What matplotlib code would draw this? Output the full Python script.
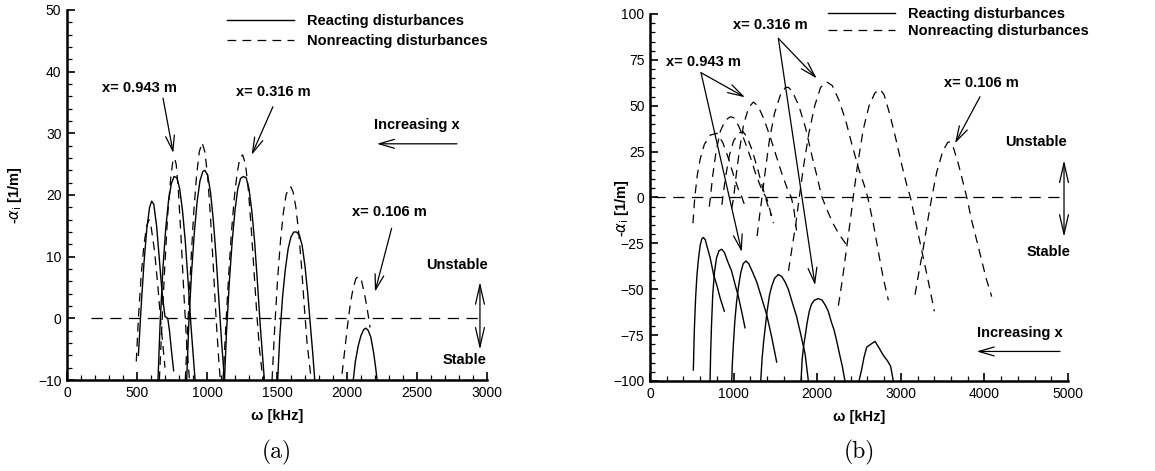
import numpy as np
import matplotlib.pyplot as plt
from matplotlib.ticker import MultipleLocator
from matplotlib.lines import Line2D

plt.rcParams['font.family'] = ['Liberation Sans', 'DejaVu Sans']

# ---- panel (a): omega [kHz] vs -alpha_i [1/m] ----
a_reacting = [
    [(510, -6), (530, 2), (550, 9), (570, 14.5), (590, 18), (605, 19), (620, 18.5), (640, 15),
     (660, 9.5), (680, 4), (700, 0.3), (720, 0), (732, -2), (745, -5), (762, -8.5)],
    [(650, -10), (665, -1), (685, 8), (705, 14.5), (725, 19), (745, 21.8), (765, 23), (785, 22.8),
     (805, 21), (825, 17.5), (845, 12.5), (865, 6), (885, -1), (905, -7), (915, -10)],
    [(855, -10), (870, -1), (890, 7.5), (910, 14), (930, 19), (950, 22.3), (970, 23.8), (985, 24),
     (1005, 23.2), (1025, 20.5), (1045, 16), (1065, 10), (1085, 3), (1105, -4), (1125, -10)],
    [(1125, -10), (1140, -2), (1160, 6), (1180, 12.5), (1200, 17.5), (1220, 21), (1240, 22.7),
     (1260, 23), (1280, 22.8), (1300, 21), (1320, 17.5), (1340, 12.5), (1360, 6), (1380, -1),
     (1400, -7), (1410, -10)],
    [(1505, -10), (1520, -3), (1540, 3.5), (1560, 8), (1580, 11.3), (1600, 13.2), (1620, 14),
     (1640, 14), (1660, 13.5), (1680, 11.8), (1700, 8.5), (1720, 4), (1740, -1.5), (1755, -5.5),
     (1770, -10)],
    [(2045, -10), (2060, -7), (2080, -4.5), (2100, -2.8), (2120, -1.8), (2135, -1.6), (2150, -1.9),
     (2170, -3), (2190, -5.5), (2205, -8), (2215, -10)],
]
a_nonreacting = [
    [(495, -7), (510, 0), (530, 7), (550, 12), (570, 15), (585, 16), (600, 15), (625, 11),
     (650, 5), (675, -2), (700, -8)],
    [(660, -10), (680, 0), (700, 9), (720, 17), (740, 22.5), (755, 25.3), (768, 26), (780, 25),
     (795, 21), (815, 13), (835, 4), (855, -4), (875, -10)],
    [(845, -10), (865, 0), (885, 9), (905, 17), (925, 23), (945, 27), (965, 28.5), (985, 27),
     (1005, 23), (1025, 16.5), (1045, 8.5), (1065, 0), (1085, -7), (1095, -10)],
    [(1115, -10), (1135, -1), (1155, 7), (1175, 14), (1195, 19.5), (1215, 23.5), (1235, 26),
     (1255, 26.5), (1275, 25), (1295, 21), (1315, 15), (1335, 8), (1355, 1), (1375, -5), (1400, -10)],
    [(1465, -10), (1485, -1), (1505, 6.5), (1525, 12.5), (1545, 17), (1565, 20), (1585, 21.2),
     (1600, 21.3), (1615, 20.5), (1635, 18), (1655, 14), (1675, 8.5), (1695, 2), (1715, -4),
     (1745, -10)],
    [(1965, -9), (1985, -5), (2005, -1), (2025, 2.5), (2045, 5), (2065, 6.5), (2085, 6.8),
     (2105, 6), (2125, 4), (2145, 1.5), (2165, -1.5)],
]
a_zero_line = [(170, 0), (2950, 0)]

# ---- panel (b) ----
b_reacting = [
    [(518, -94), (530, -72), (545, -55), (560, -43), (578, -34), (600, -26), (620, -22.5),
     (638, -21.8), (660, -23), (690, -28), (720, -33), (760, -42), (800, -48), (840, -55), (889, -62)],
    [(718, -100), (725, -85), (735, -70), (750, -53), (770, -41), (795, -33), (825, -29),
     (857, -28.2), (890, -30), (930, -35), (975, -40), (1015, -47), (1057, -54), (1100, -63),
     (1136, -71)],
    [(977, -100), (985, -90), (997, -80), (1015, -67), (1035, -57), (1057, -49), (1085, -41),
     (1115, -36), (1148, -34.6), (1180, -36), (1220, -40), (1276, -46), (1330, -54), (1396, -64),
     (1455, -76), (1515, -89.7)],
    [(1324, -100), (1340, -88), (1360, -78), (1375, -72), (1400, -62), (1430, -53), (1455, -48.5),
     (1490, -44), (1535, -42), (1575, -43), (1615, -46), (1654, -50), (1700, -57), (1754, -65),
     (1800, -74), (1854, -85), (1894, -100)],
    [(1806, -100), (1820, -88), (1840, -80), (1854, -76), (1880, -68), (1905, -62), (1933, -58),
     (1965, -56), (2013, -55.1), (2060, -56), (2100, -59), (2132, -62), (2170, -68), (2200, -72),
     (2232, -78), (2270, -86), (2300, -92), (2332, -100)],
    [(2500, -100), (2530, -94), (2560, -87), (2592, -81.5), (2640, -80), (2691, -78.4),
     (2740, -82), (2790, -86), (2840, -89), (2878, -92), (2910, -100)],
]
b_nonreacting = [
    [(513, -14), (535, 0), (565, 12), (600, 21), (650, 29), (720, 34), (800, 35), (870, 30),
     (940, 21), (1000, 12), (1060, 4), (1100, 0), (1138, -5)],
    [(709, -5), (722, 0), (750, 12), (790, 25), (840, 36), (900, 42), (960, 44), (1000, 43.5),
     (1060, 39), (1130, 31), (1200, 22), (1270, 12), (1340, 4), (1400, -1), (1477, -14)],
    [(860, -4), (875, 2), (910, 13), (950, 23), (1000, 31), (1060, 35), (1110, 36), (1160, 33),
     (1220, 26), (1290, 15), (1350, 5), (1400, -3), (1450, -10)],
    [(977, -6), (1000, 0), (1030, 12), (1070, 26), (1120, 40), (1180, 49), (1236, 52), (1290, 50),
     (1360, 43), (1430, 34), (1500, 24), (1570, 14), (1640, 5), (1690, 0), (1720, -6), (1752, -18)],
    [(1281, -21), (1310, -10), (1339, 0), (1380, 15), (1430, 32), (1490, 46), (1560, 56),
     (1620, 60), (1655, 60), (1700, 58), (1780, 50), (1860, 38), (1940, 22), (2000, 11),
     (2050, 1), (2110, -6), (2187, -14), (2260, -20), (2370, -27)],
    [(1656, -40), (1700, -27), (1745, -14), (1785, 0), (1840, 18), (1900, 35), (1970, 50),
     (2040, 60), (2113, 63), (2180, 61), (2260, 53), (2340, 42), (2420, 28), (2500, 15),
     (2560, 7), (2605, 0), (2670, -14), (2733, -30), (2790, -44), (2851, -56)],
    [(2253, -59), (2300, -45), (2350, -28), (2400, -11), (2430, 0), (2480, 17), (2550, 37),
     (2620, 50), (2690, 57), (2751, 59), (2800, 56), (2870, 45), (2940, 32), (3010, 18),
     (3070, 7), (3115, 0), (3190, -16), (3260, -31), (3330, -46), (3401, -62)],
    [(3170, -53), (3215, -41), (3260, -30), (3320, -13), (3370, 0), (3430, 14), (3500, 25),
     (3560, 30), (3589, 30.3), (3630, 27), (3690, 18), (3740, 9), (3789, 0), (3850, -13),
     (3900, -22), (3960, -33), (4020, -44), (4087, -54)],
]
b_zero_line = [(50, 0), (4950, 0)]

solid_kw = dict(color='black', lw=1.0)
dash_kw = dict(color='black', lw=0.9, dashes=(7, 5))
bold = dict(fontsize=10.5, fontweight='bold')
arrow = dict(arrowstyle='->,head_length=0.55,head_width=0.16', lw=0.9, color='black',
             shrinkA=0, shrinkB=0, mutation_scale=20)
dbl_arrow = dict(arrowstyle='<->,head_length=0.7,head_width=0.16', lw=0.9, color='black',
                 shrinkA=0, shrinkB=0, mutation_scale=20)


def draw(ax, reacting, nonreacting, zero_line):
    for c in nonreacting:
        w, v = np.array(c).T
        ax.plot(w, v, **dash_kw)
    w, v = np.array(zero_line).T
    ax.plot(w, v, color='black', lw=0.9, dashes=(9, 6))
    for c in reacting:
        w, v = np.array(c).T
        ax.plot(w, v, **solid_kw)


def style(ax, xmax, xmaj, xmin, ylim, ymaj, ymin):
    ax.set_xlim(0, xmax)
    ax.set_ylim(*ylim)
    ax.xaxis.set_major_locator(MultipleLocator(xmaj))
    ax.xaxis.set_minor_locator(MultipleLocator(xmin))
    ax.yaxis.set_major_locator(MultipleLocator(ymaj))
    ax.yaxis.set_minor_locator(MultipleLocator(ymin))
    for s in ['top', 'right']:
        ax.spines[s].set_visible(False)
    for s in ['left', 'bottom']:
        ax.spines[s].set_linewidth(1.8)
    ax.tick_params(which='major', direction='in', length=6, width=1.2, labelsize=10, pad=4)
    ax.tick_params(which='minor', direction='in', length=3.5, width=0.9)
    ax.set_xlabel('ω [kHz]', fontsize=10.5, fontweight='bold', labelpad=7)


def legend(ax, anchor, spacing):
    handles = [Line2D([], [], **solid_kw), Line2D([], [], **dash_kw)]
    ax.legend(handles, ['Reacting disturbances', 'Nonreacting disturbances'],
              loc='upper left', bbox_to_anchor=anchor, frameon=False, borderpad=0,
              borderaxespad=0, handlelength=4.6, handletextpad=0.9, labelspacing=spacing,
              prop=dict(size=10.5, weight='bold'))


fig = plt.figure(figsize=(11.55, 4.71), dpi=100)
ax1 = fig.add_axes([0.058, 0.1932, 0.3636, 0.7856])
ax2 = fig.add_axes([0.5628, 0.1911, 0.3619, 0.7792])

# (a)
draw(ax1, a_reacting, a_nonreacting, a_zero_line)
style(ax1, 3000, 500, 100, (-10, 50), 10, 2)
legend(ax1, (0.381, 0.99), 0.42)
ax1.text(-0.124, 0.5, r'-$\alpha_{\rm i}$ [1/m]', transform=ax1.transAxes, rotation=90,
         ha='center', va='center', **bold)
ax1.text(521, 37.3, 'x= 0.943 m', ha='center', va='center', **bold)
ax1.annotate('', xy=(759, 26.8), xytext=(686, 35.7), arrowprops=arrow)
ax1.text(1471, 36.7, 'x= 0.316 m', ha='center', va='center', **bold)
ax1.annotate('', xy=(1319, 26.5), xytext=(1471, 34.3), arrowprops=arrow)
ax1.text(2500, 31.3, 'Increasing x', ha='center', va='center', **bold)
ax1.annotate('', xy=(2214, 28.3), xytext=(2786, 28.3), arrowprops=arrow)
ax1.text(2300, 17.3, 'x= 0.106 m', ha='center', va='center', **bold)
ax1.annotate('', xy=(2200, 4.3), xytext=(2319, 14.6), arrowprops=arrow)
ax1.text(2786, 8.6, 'Unstable', ha='center', va='center', **bold)
ax1.text(2843, -6.8, 'Stable', ha='center', va='center', **bold)
ax1.annotate('', xy=(2950, 5.9), xytext=(2950, -5.1), arrowprops=dbl_arrow,
             annotation_clip=False)
ax1.text(0.5, -0.195, '(a)', transform=ax1.transAxes, ha='center', va='center',
         fontsize=17, family='cmr10')

# (b)
draw(ax2, b_reacting, b_nonreacting, b_zero_line)
style(ax2, 5000, 1000, 200, (-100, 100), 25, 5)
legend(ax2, (0.426, 1.019), 0.22)
ax2.text(-0.068, 0.47, r'-$\alpha_{\rm i}$ [1/m]', transform=ax2.transAxes, rotation=90,
         ha='center', va='center', **bold)
ax2.text(1436, 94, 'x= 0.316 m', ha='center', va='center', **bold)
ax2.annotate('', xy=(1994, 64.9), xytext=(1535, 86.7), arrowprops=arrow)
ax2.annotate('', xy=(1974, -47.8), xytext=(1535, 86.7), arrowprops=arrow)
ax2.text(637, 74, 'x= 0.943 m', ha='center', va='center', **bold)
ax2.annotate('', xy=(1136, 54.6), xytext=(610, 68), arrowprops=arrow)
ax2.annotate('', xy=(1097, -29.7), xytext=(610, 68), arrowprops=arrow)
ax2.text(3963, 62.2, 'x= 0.106 m', ha='center', va='center', **bold)
ax2.annotate('', xy=(3648, 29.5), xytext=(3947, 54.9), arrowprops=arrow)
ax2.text(4617, 30.3, 'Unstable', ha='center', va='center', **bold)
ax2.text(4770, -29.7, 'Stable', ha='center', va='center', **bold)
ax2.annotate('', xy=(4952, 20.3), xytext=(4952, -21.5), arrowprops=dbl_arrow,
             annotation_clip=False)
ax2.text(4426, -73.9, 'Increasing x', ha='center', va='center', **bold)
ax2.annotate('', xy=(3907, -83.9), xytext=(4904, -83.9), arrowprops=arrow)
ax2.text(0.5, -0.195, '(b)', transform=ax2.transAxes, ha='center', va='center',
         fontsize=17, family='cmr10')

fig.savefig('out.png', dpi=100)
